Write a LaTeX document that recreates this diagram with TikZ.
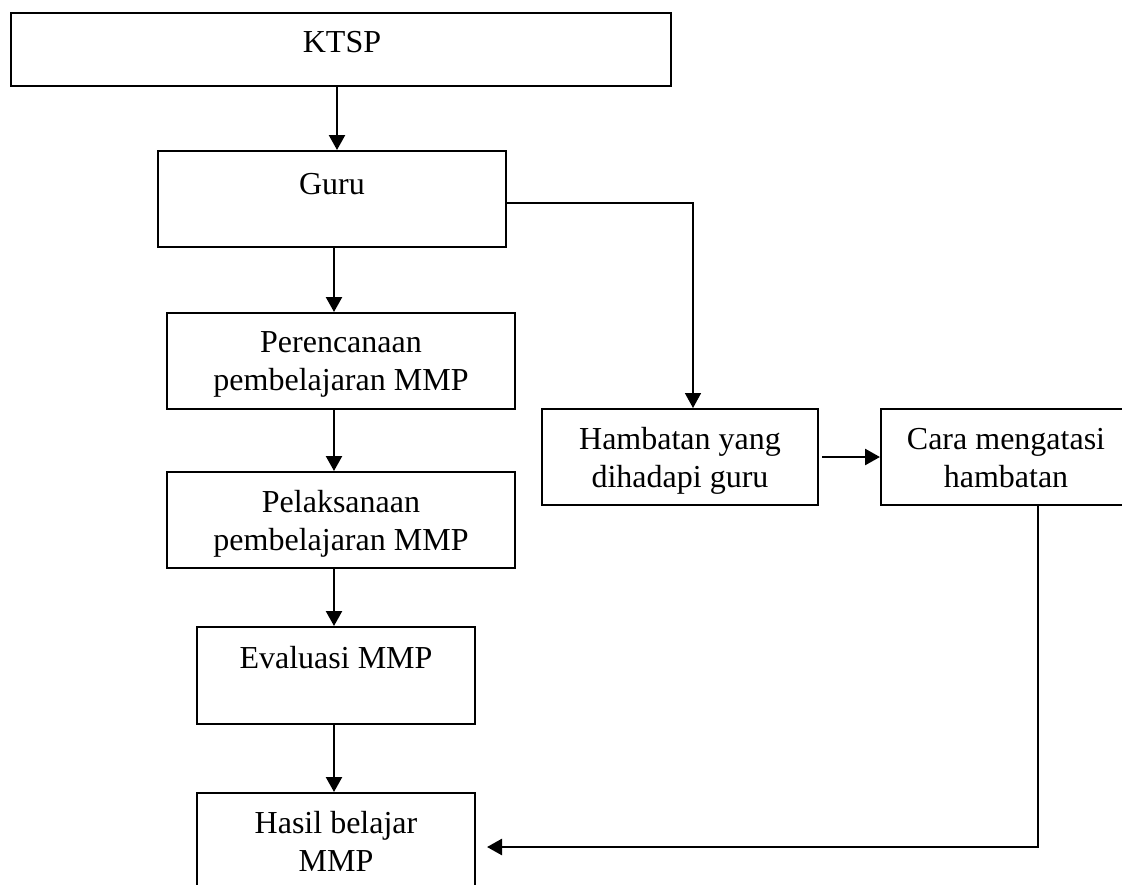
\documentclass[tikz,border=0pt]{standalone}
\usepackage{fontspec}
\setmainfont{Liberation Serif}
\usetikzlibrary{arrows.meta}
\begin{document}
\begin{tikzpicture}[x=1pt,y=-1pt,
  box/.style={draw, line width=2pt, inner sep=0pt},
  lbl/.style={anchor=north, inner sep=0pt, align=center, font=\fontsize{32}{38.5}\selectfont},
  arr/.style={line width=2.3pt, -{Triangle[length=15pt,width=16pt]}},
  arrthin/.style={line width=1.6pt, -{Triangle[length=15pt,width=16pt]}},
  arrthick/.style={line width=2.6pt, -{Triangle[length=15pt,width=16pt]}}]
\clip (0,0) rectangle (1122,884);
\fill[white] (0,0) rectangle (1122,884);
% boxes
\node[box, minimum width=660pt, minimum height=73pt] (ktsp) at (341,49.5) {};
\node[box, minimum width=348pt, minimum height=96pt] (guru) at (332,199) {};
\node[box, minimum width=348pt, minimum height=96pt] (per) at (341,361) {};
\node[box, minimum width=348pt, minimum height=96pt] (pel) at (341,520) {};
\node[box, minimum width=278pt, minimum height=97pt] (eva) at (336,675.5) {};
\node[box, minimum width=278pt, minimum height=140pt] (has) at (336,863) {};
\node[box, minimum width=276pt, minimum height=96pt] (ham) at (680,457) {};
\node[box, minimum width=250pt, minimum height=96pt] (cara) at (1006,457) {};
% texts
\node[lbl] (ktspt) at (342,31) {KTSP};
\node[lbl] (gurut) at (332,173) {Guru};
\node[lbl] (pert) at (341,331) {Perencanaan\\pembelajaran MMP};
\node[lbl] (pelt) at (341,490) {Pelaksanaan\\pembelajaran MMP};
\node[lbl] (evat) at (336,646) {Evaluasi MMP};
\node[lbl] (hast) at (336,811) {Hasil belajar\\MMP};
\node[lbl] (hamt) at (680,427) {Hambatan yang\\dihadapi guru};
\node[lbl] (carat) at (1006,428) {Cara mengatasi\\hambatan};
% connectors
\draw[arr] ([xshift=-4pt]ktsp.south) -- ([xshift=-4pt]ktsp.south |- guru.north);
\draw[arr] ([xshift=2pt]guru.south) -- ([xshift=2pt]guru.south |- per.north);
\draw[arr] ([xshift=-7pt]per.south) -- ([xshift=-7pt]per.south |- pel.north);
\draw[arr] ([xshift=-2pt]eva.north |- pel.south) -- ([xshift=-2pt]eva.north);
\draw[arr] ([xshift=-2pt]eva.south) -- ([xshift=-2pt]has.north);
\draw[arrthin] ([yshift=-4pt]guru.east) -| ([xshift=13pt]ham.north);
\draw[arrthick] ([xshift=3pt]ham.east) -- (cara.west);
\coordinate (turn) at (1038,847);
\draw[arrthick] (cara.south -| turn) |- ([xshift=11pt]has.east |- turn);
\end{tikzpicture}
\end{document}
